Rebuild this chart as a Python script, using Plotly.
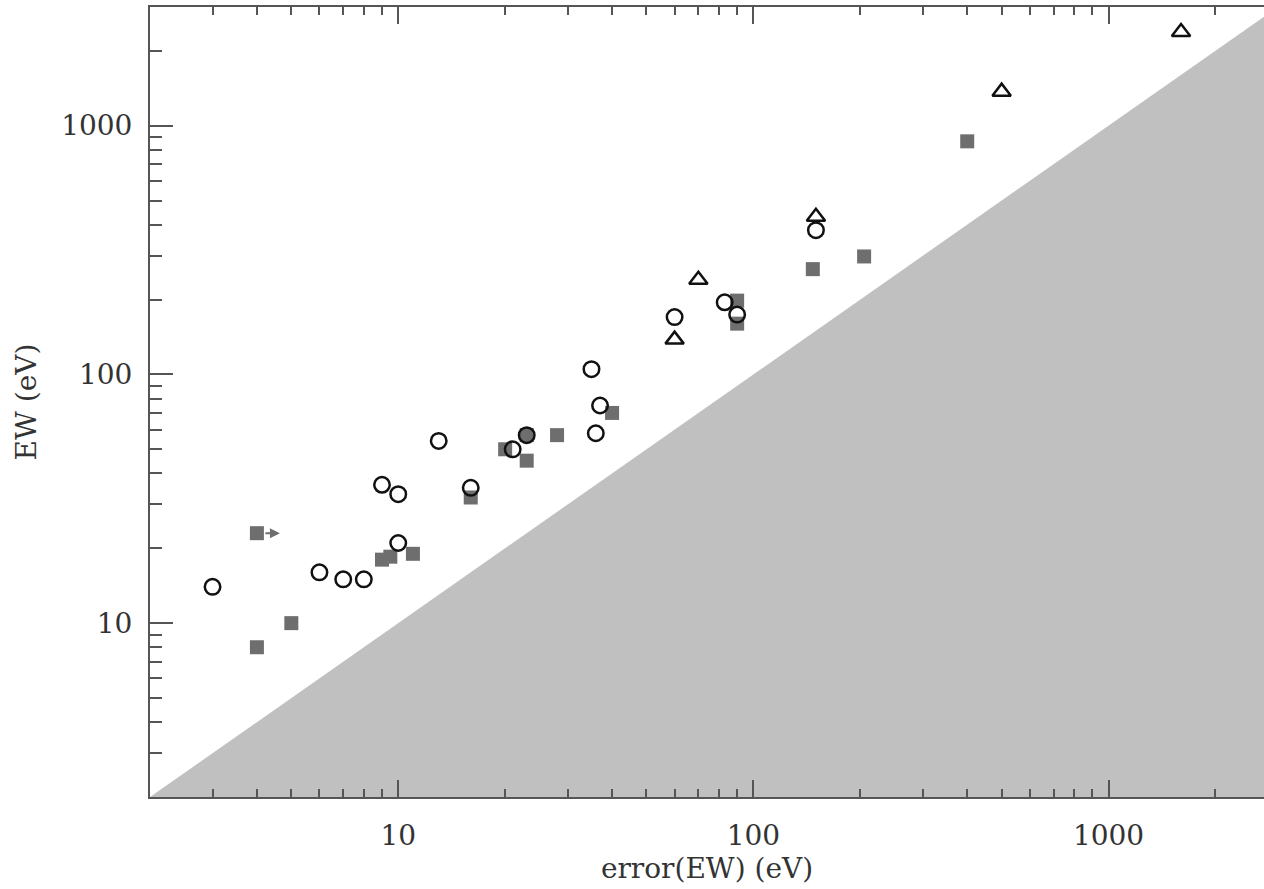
import math
import plotly.graph_objects as go

# ---------------- data ----------------
circ_x = [3, 6, 7, 8, 10, 9, 10, 13, 16, 21, 23, 35, 37, 36, 60, 83, 90, 150]
circ_y = [14, 16, 15, 15, 21, 36, 33, 54, 35, 50, 57, 105, 75, 58, 170, 195, 174, 380]

sq_x = [4, 5, 4, 9, 9.5, 11, 16, 20, 23, 23, 28, 40, 90, 90, 147, 205, 400]
sq_y = [8, 10, 23, 18, 18.5, 19, 32, 50, 57, 45, 57, 70, 198, 160, 265, 298, 865]

tri_x = [60, 70, 150, 500, 1600]
tri_y = [138, 240, 430, 1370, 2380]

# lower limit (arrow) point
lim_x = [4]
lim_y = [23]

# forbidden region: EW < error(EW)
region_x = [2, 3000, 3000, 2]
region_y = [2, 3000, 2, 2]

major_ticks = [10, 100, 1000]
minor_ticks = [2, 3, 4, 5, 6, 7, 8, 9, 20, 30, 40, 50, 60, 70, 80, 90,
               200, 300, 400, 500, 600, 700, 800, 900, 2000, 3000]

x_min, x_max = 2, 3000
y_min, y_max = 2, 3000

# ---------------- figure ----------------
W, H = 1264, 889
ml, mt, mb = 150, 7, 92
full_w = 1278 - ml  # the original frame extends a bit past the picture edge
vis_w = W - ml
lx0, lx1 = math.log10(x_min), math.log10(x_max)
x_right = lx0 + (lx1 - lx0) * vis_w / full_w

fig = go.Figure()

fig.add_trace(go.Scatter(
    x=region_x, y=region_y, mode="lines", fill="toself",
    fillcolor="#c0c0c0", line=dict(width=0, color="#c0c0c0"),
    hoverinfo="skip", showlegend=False))

fig.add_trace(go.Scatter(
    x=sq_x, y=sq_y, mode="markers",
    marker=dict(symbol="square", size=14, color="#6e6e6e",
                line=dict(width=0)),
    showlegend=False))

fig.add_trace(go.Scatter(
    x=circ_x, y=circ_y, mode="markers",
    marker=dict(symbol="circle-open", size=15.5, color="#111111",
                line=dict(width=2.5)),
    showlegend=False))

fig.add_trace(go.Scatter(
    x=tri_x, y=tri_y, mode="markers",
    marker=dict(symbol="triangle-up-open", size=16, color="#111111",
                line=dict(width=2.5)),
    showlegend=False))

for lx, ly in zip(lim_x, lim_y):
    fig.add_annotation(x=math.log10(lx), y=math.log10(ly), xref="x", yref="y",
                       text="", showarrow=True, ax=-16, ay=0, xshift=23,
                       arrowhead=2, arrowsize=1.0, arrowwidth=2,
                       arrowcolor="#6e6e6e")

font_family = "DejaVu Serif"
axis_col = "#555555"

fig.update_xaxes(
    type="log", range=[lx0, x_right],
    showline=True, linecolor=axis_col, linewidth=2, mirror="ticks",
    showgrid=False, zeroline=False,
    tickmode="array", tickvals=major_ticks, ticktext=[str(v) for v in major_ticks],
    ticks="inside", ticklen=17, tickwidth=1.5, tickcolor=axis_col,
    minor=dict(tickmode="array", tickvals=minor_ticks, ticks="inside",
               ticklen=8, tickwidth=1.5, tickcolor=axis_col, showgrid=False),
    tickfont=dict(family=font_family, size=28, color="#333333"),
    ticklabelstandoff=12,
    title=dict(text="error(EW) (eV)", standoff=3,
               font=dict(family=font_family, size=28, color="#333333")),
)

fig.update_yaxes(
    type="log", range=[math.log10(y_min), math.log10(y_max)],
    showline=True, linecolor=axis_col, linewidth=2, mirror=False,
    showgrid=False, zeroline=False,
    tickmode="array", tickvals=major_ticks, ticktext=[str(v) for v in major_ticks],
    ticks="inside", ticklen=23, tickwidth=1.5, tickcolor=axis_col,
    minor=dict(tickmode="array", tickvals=minor_ticks, ticks="inside",
               ticklen=12, tickwidth=1.5, tickcolor=axis_col, showgrid=False),
    tickfont=dict(family=font_family, size=28, color="#333333"),
    ticklabelstandoff=10,
    title=dict(text="EW (eV)", standoff=16,
               font=dict(family=font_family, size=28, color="#333333")),
)

fig.update_layout(
    width=W, height=H,
    margin=dict(l=ml, r=0, t=mt, b=mb, pad=0),
    paper_bgcolor="white", plot_bgcolor="white",
    showlegend=False,
)

fig.write_html(
    "out.html",
    config={"displayModeBar": False},
    post_script="document.body.style.margin='0';document.body.style.overflow='hidden';",
)
